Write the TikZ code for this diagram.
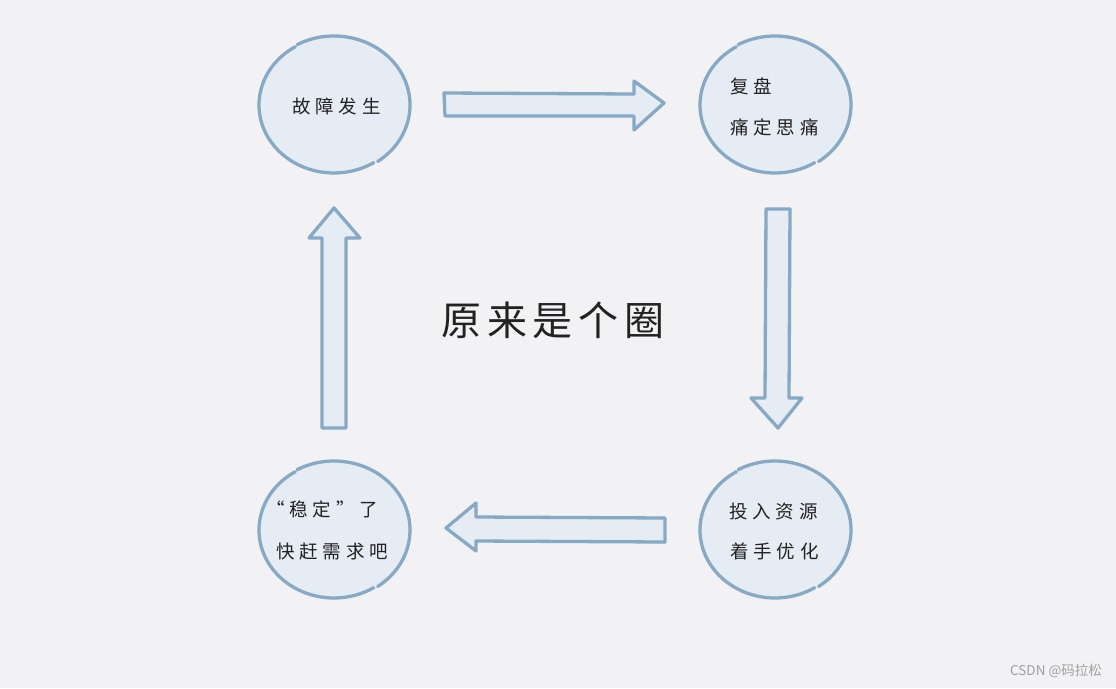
\documentclass[tikz,border=0pt]{standalone}
\usepackage{fontspec}
\setmainfont{Noto Sans CJK SC}
\newfontfamily\cjk[LetterSpace=26]{Noto Sans CJK SC}
\newfontfamily\cjkbig[LetterSpace=14]{Noto Sans CJK SC}
\newfontfamily\wm{Noto Sans CJK SC}
\usetikzlibrary{shapes.geometric}
\definecolor{bg}{HTML}{F2F2F4}
\definecolor{fillc}{HTML}{E5ECF3}
\definecolor{linec}{HTML}{86A9C5}
\definecolor{txt}{HTML}{222222}
\definecolor{wmc}{HTML}{A0A0A0}
\begin{document}
\begin{tikzpicture}[x=1pt,y=-1pt,
  blob/.style={ellipse, minimum width=150pt, minimum height=136pt, fill=fillc, inner sep=0pt},
  sk/.style={draw=linec, line width=3.3pt, line cap=round},
  barrow/.style={draw=linec, fill=fillc, line width=3.3pt, line join=round},
  lbl/.style={anchor=west, inner sep=0pt, text=txt, font=\cjk\fontsize{18.5}{22}\selectfont},
  big/.style={inner sep=0pt, text=txt, font=\cjkbig\fontsize{40}{48}\selectfont},
  wmark/.style={anchor=east, inner sep=0pt, text=wmc, font=\wm\fontsize{13.5}{16}\selectfont}]
\fill[bg] (0,0) rectangle (1116,688);
\useasboundingbox (0,0) rectangle (1116,688);

% circles
\foreach \n/\x/\y in {c1/334/105, c2/775/105, c3/334/530, c4/775/530}{
  \node[blob] (\n) at (\x,\y) {};
  \draw[sk] ([shift={(121:75pt and 68pt)}]\n.center) arc[start angle=121, end angle=302, x radius=75pt, y radius=68pt];
  \draw[sk] ([shift={(305:76pt and 69pt)}]\n.center) arc[start angle=305, end angle=479, x radius=76pt, y radius=69pt];
}

% block arrows
\draw[barrow] (444,93) -- (634,94) -- (634,81) -- (664,103) -- (634,130) -- (634,116) -- (445,116) -- cycle;
\draw[barrow] (766,209) -- (790,209) -- (789,398) -- (802,398) -- (778,428) -- (751,398) -- (765,398) -- cycle;
\draw[barrow] (665,518) -- (476,517) -- (476,503) -- (446,528) -- (476,551) -- (476,541) -- (665,542) -- cycle;
\draw[barrow] (322,428) -- (346,428) -- (346,238) -- (360,238) -- (334,208) -- (309,238) -- (322,238) -- cycle;

% texts
\node[lbl] (t1) at (292,106) {故障发生};
\node[lbl] (t2a) at (730,86) {复盘};
\node[lbl] (t2b) at (730,127) {痛定思痛};
\node[lbl] (t4a) at (729,511) {投入资源};
\node[lbl] (t4b) at (730,551) {着手优化};
\node[lbl] (t3a) at (266,509) {“稳定”了};
\node[lbl] (t3b) at (276,552) {快赶需求吧};
\node[big] (title) at (553,320) {原来是个圈};
\node[wmark] (wm) at (1102,671) {CSDN @码拉松};
\end{tikzpicture}
\end{document}
